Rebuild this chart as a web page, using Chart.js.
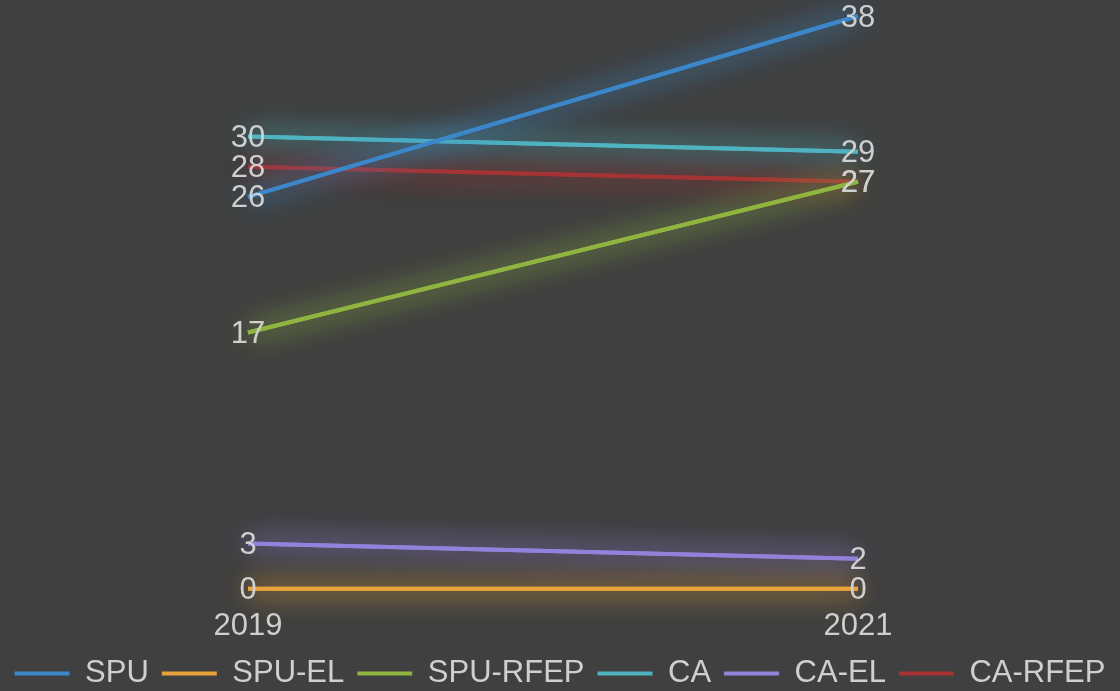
<!DOCTYPE html>
<html>
<head>
<meta charset="utf-8">
<script src="https://cdn.jsdelivr.net/npm/chart.js@4"></script>
<style>
  html, body { margin: 0; padding: 0; background: #404040; }
  #wrap { width: 1120px; height: 691px; position: relative; }
</style>
</head>
<body>
<div id="wrap"><canvas id="trendChart"></canvas></div>
<script>
const years = [2019, 2021];
const seriesNames = ['SPU', 'SPU-EL', 'SPU-RFEP', 'CA', 'CA-EL', 'CA-RFEP'];
const spu = [26, 38];
const spuEl = [0, 0];
const spuRfep = [17, 27];
const ca = [30, 29];
const caEl = [3, 2];
const caRfep = [28, 27];
const colors = ['#3b87c9', '#e8a33a', '#8fb540', '#4fb3c0', '#9382dc', '#a83232'];

const allValues = [spu, spuEl, spuRfep, ca, caEl, caRfep];
const textColor = '#cfcfcf';
const fontFamily = '"Liberation Sans", Arial, sans-serif';

// soft glow around each line (an extra blurred pass underneath)
const glowPlugin = {
    id: 'glow',
    beforeDatasetDraw(chart, args) {
        const ctx = chart.ctx;
        ctx.save();
        ctx.shadowColor = chart.data.datasets[args.index].borderColor;
        ctx.shadowBlur = 28;
        args.meta.dataset.draw(ctx, chart.chartArea);
    },
    afterDatasetDraw(chart) {
        chart.ctx.restore();
    }
};

// value labels centered on each point
const valueLabels = {
    id: 'valueLabels',
    afterDatasetsDraw(chart) {
        const ctx = chart.ctx;
        ctx.save();
        ctx.font = '31px ' + fontFamily;
        ctx.fillStyle = textColor;
        ctx.textAlign = 'center';
        ctx.textBaseline = 'middle';
        chart.data.datasets.forEach(function (ds, i) {
            chart.getDatasetMeta(i).data.forEach(function (pt, j) {
                ctx.fillText(String(ds.data[j].y), pt.x, pt.y + 2);
            });
        });
        ctx.restore();
    }
};

const datasets = seriesNames.map(function (name, i) {
    return {
        label: name,
        data: years.map(function (yr, j) { return { x: yr, y: allValues[i][j] }; }),
        borderColor: colors[i],
        backgroundColor: colors[i],
        borderWidth: 4,
        pointRadius: 0,
        tension: 0,
        clip: false,
    };
});

const ctx = document.getElementById('trendChart').getContext('2d');
new Chart(ctx, {
    type: 'line',
    data: { datasets: datasets },
    options: {
        responsive: true,
        maintainAspectRatio: false,
        animation: false,
        layout: { padding: { left: 0, right: 0, top: 16, bottom: -8 } },
        scales: {
            x: {
                type: 'linear',
                min: 2019 - 248 / 305,
                max: 2021 + 262 / 305,
                afterBuildTicks: function (axis) {
                    axis.ticks = years.map(function (v) { return { value: v }; });
                },
                afterFit: function (axis) { axis.height -= 11; },
                grid: { display: false },
                border: { display: false },
                ticks: {
                    color: textColor,
                    font: { size: 31, family: fontFamily },
                    padding: 11,
                    callback: function (v) { return String(v); },
                },
            },
            y: {
                display: false,
                min: 0,
                max: 38,
            },
        },
        plugins: {
            legend: {
                position: 'bottom',
                labels: {
                    color: textColor,
                    font: { size: 31, family: fontFamily },
                    usePointStyle: true,
                    pointStyle: 'line',
                    pointStyleWidth: 55,
                    padding: 13,
                },
            },
            tooltip: { enabled: false },
        },
    },
    plugins: [glowPlugin, valueLabels],
});
</script>
</body>
</html>
